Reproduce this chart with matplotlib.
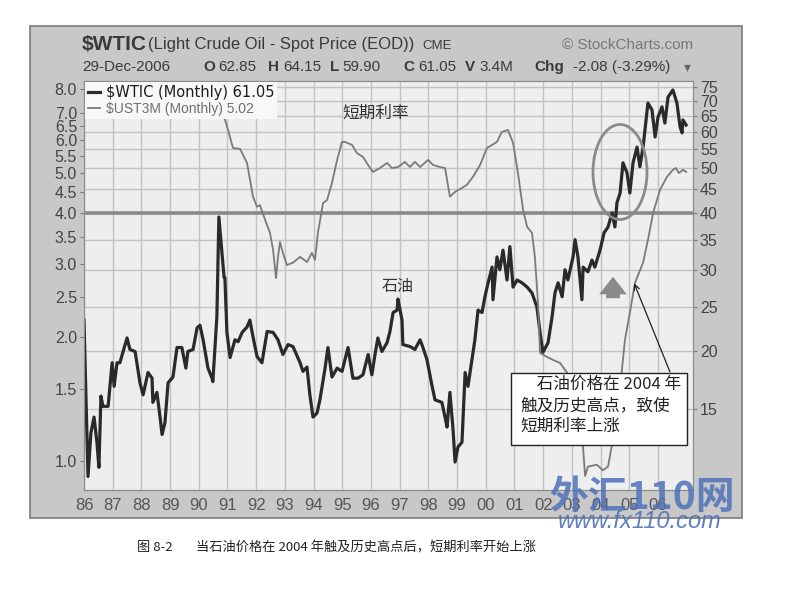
import matplotlib
matplotlib.use('Agg')
import matplotlib.pyplot as plt
from matplotlib.patches import Rectangle, Ellipse

plt.rcParams['font.family'] = ['Liberation Sans', 'Noto Sans CJK SC', 'DejaVu Sans']
CJK = ['Noto Sans CJK SC', 'DejaVu Sans']

# 原油月度收盘价 (右轴, 美元)
oil_years = [1986.00, 1986.14, 1986.24, 1986.35, 1986.45, 1986.52, 1986.59, 1986.66, 1986.84, 1986.98,
             1987.05, 1987.15, 1987.25, 1987.50, 1987.60, 1987.78, 1987.95, 1988.06, 1988.23, 1988.37,
             1988.40, 1988.54, 1988.65, 1988.72, 1988.82, 1988.93, 1989.10, 1989.24, 1989.41, 1989.55,
             1989.62, 1989.80, 1989.94, 1990.04, 1990.15, 1990.32, 1990.46, 1990.49, 1990.63, 1990.70,
             1990.88, 1990.91, 1990.98, 1991.09, 1991.26, 1991.37, 1991.51, 1991.68, 1991.78, 1991.89,
             1992.03, 1992.20, 1992.38, 1992.59, 1992.76, 1992.93, 1993.11, 1993.28, 1993.53, 1993.63,
             1993.77, 1993.87, 1993.98, 1994.12, 1994.22, 1994.40, 1994.50, 1994.64, 1994.82, 1994.99,
             1995.20, 1995.37, 1995.55, 1995.72, 1995.90, 1996.03, 1996.14, 1996.24, 1996.38, 1996.56,
             1996.66, 1996.77, 1996.91, 1996.94, 1997.08, 1997.11, 1997.36, 1997.53, 1997.71, 1997.81,
             1997.95, 1998.13, 1998.23, 1998.47, 1998.58, 1998.65, 1998.75, 1998.86, 1998.93, 1999.03,
             1999.17, 1999.21, 1999.28, 1999.38, 1999.52, 1999.62, 1999.73, 1999.87, 1999.97, 2000.08,
             2000.22, 2000.25, 2000.39, 2000.49, 2000.60, 2000.74, 2000.84, 2000.95, 2001.09, 2001.26,
             2001.44, 2001.61, 2001.78, 2001.89, 2001.99, 2002.17, 2002.31, 2002.41, 2002.52, 2002.66,
             2002.76, 2002.86, 2003.04, 2003.11, 2003.21, 2003.35, 2003.39, 2003.56, 2003.70, 2003.80,
             2003.98, 2004.12, 2004.26, 2004.40, 2004.50, 2004.57, 2004.68, 2004.78, 2004.92, 2005.02,
             2005.13, 2005.27, 2005.37, 2005.48, 2005.65, 2005.79, 2005.90, 2006.00, 2006.14, 2006.24,
             2006.35, 2006.52, 2006.66, 2006.77, 2006.84, 2006.87, 2006.98]
oil_price = [23.4, 10.7, 13.3, 14.4, 12.7, 11.2, 16.0, 15.2, 15.2, 18.9,
             16.8, 18.9, 18.9, 21.4, 20.2, 20.0, 17.1, 16.1, 18.0, 17.5,
             15.5, 16.3, 14.4, 13.2, 14.0, 17.1, 17.6, 20.4, 20.4, 18.4,
             20.0, 20.2, 22.5, 22.8, 21.2, 18.4, 17.5, 17.2, 23.8, 39.2,
             29.0, 28.9, 22.0, 19.4, 21.2, 21.0, 22.0, 22.6, 23.4, 21.5,
             19.5, 18.9, 22.1, 22.0, 21.2, 19.7, 20.7, 20.5, 18.9, 18.1,
             18.5, 16.1, 14.4, 14.7, 15.7, 18.4, 20.4, 17.6, 18.4, 18.1,
             20.4, 17.5, 17.5, 17.8, 19.7, 17.8, 19.7, 21.4, 20.0, 20.9,
             22.1, 24.3, 24.6, 26.0, 23.4, 20.7, 20.5, 20.2, 21.2, 20.4,
             19.2, 16.8, 15.7, 15.5, 14.4, 13.7, 16.3, 13.5, 11.5, 12.4,
             12.7, 14.4, 18.0, 16.8, 19.2, 21.2, 24.6, 24.3, 26.3, 28.2,
             30.5, 25.9, 32.1, 30.1, 33.2, 28.6, 33.8, 27.6, 28.6, 28.2,
             27.6, 26.8, 25.0, 22.0, 19.9, 20.9, 23.8, 26.8, 28.2, 26.3,
             30.1, 28.6, 32.1, 35.0, 32.1, 25.9, 30.5, 29.8, 31.6, 30.5,
             33.2, 36.2, 37.3, 40.0, 37.3, 42.1, 44.2, 51.4, 48.9, 44.2,
             51.4, 55.6, 50.4, 55.6, 69.3, 67.0, 58.5, 64.6, 68.0, 62.7,
             71.4, 74.0, 69.3, 61.5, 59.7, 63.7, 62.1]

# 3个月国债收益率 (左轴, %)
rate_years = [1990.70, 1990.84, 1991.02, 1991.19, 1991.44, 1991.68, 1991.89, 1992.03, 1992.13, 1992.31,
              1992.48, 1992.59, 1992.69, 1992.76, 1992.83, 1992.93, 1993.07, 1993.28, 1993.53, 1993.77,
              1993.94, 1994.05, 1994.15, 1994.33, 1994.47, 1994.64, 1994.82, 1994.99, 1995.09, 1995.34,
              1995.51, 1995.72, 1995.97, 1996.07, 1996.31, 1996.56, 1996.73, 1996.94, 1997.18, 1997.36,
              1997.53, 1997.71, 1997.99, 1998.16, 1998.40, 1998.58, 1998.75, 1998.93, 1999.17, 1999.34,
              1999.55, 1999.80, 2000.04, 2000.22, 2000.39, 2000.56, 2000.77, 2000.95, 2001.12, 2001.30,
              2001.44, 2001.61, 2001.71, 2001.82, 2001.89, 2002.13, 2002.34, 2002.59, 2002.83, 2003.04,
              2003.28, 2003.39, 2003.46, 2003.56, 2003.87, 2004.08, 2004.26, 2004.43, 2004.68, 2004.85,
              2005.02, 2005.20, 2005.48, 2005.65, 2005.83, 2006.07, 2006.31, 2006.52, 2006.62, 2006.73,
              2006.87, 2006.98]
rate_values = [7.7, 6.99, 6.36, 5.75, 5.72, 5.29, 4.38, 4.14, 4.18, 3.85,
               3.58, 3.25, 2.78, 3.13, 3.40, 3.20, 2.99, 3.03, 3.13, 3.04,
               3.20, 3.08, 3.58, 4.23, 4.30, 4.73, 5.38, 5.95, 5.95, 5.85,
               5.59, 5.47, 5.14, 5.03, 5.14, 5.29, 5.14, 5.17, 5.32, 5.17,
               5.32, 5.17, 5.38, 5.23, 5.17, 5.14, 4.38, 4.50, 4.60, 4.68,
               4.89, 5.23, 5.75, 5.85, 5.95, 6.29, 6.36, 5.92, 5.00, 4.07,
               3.70, 3.58, 3.13, 2.42, 1.83, 1.79, 1.76, 1.73, 1.64, 1.51,
               1.35, 1.08, 0.92, 0.97, 0.98, 0.95, 0.97, 1.13, 1.51, 1.97,
               2.29, 2.71, 3.03, 3.44, 4.00, 4.55, 4.89, 5.09, 5.14, 5.00,
               5.09, 5.03]

year_ticks = list(range(1986, 2007))
year_labels = [str(y)[2:] for y in year_ticks]
rate_ticks = [1.0, 1.5, 2.0, 2.5, 3.0, 3.5, 4.0, 4.5, 5.0, 5.5, 6.0, 6.5, 7.0, 8.0]
oil_ticks = [15, 20, 25, 30, 35, 40, 45, 50, 55, 60, 65, 70, 75]

W, H = 791, 592


def px(x, y):
    return x / W, 1 - y / H


fig = plt.figure(figsize=(W / 100, H / 100), dpi=100)
fig.patch.set_facecolor('white')
# 灰色外框
fig.patches.append(Rectangle(px(30, 518), 712 / W, 492 / H, transform=fig.transFigure,
                             fc='#c8c8c8', ec='#7c7c7c', lw=1.2, zorder=-5))

ax = fig.add_axes([84 / W, 1 - 490 / H, 609 / W, 409 / H])
ax.set_facecolor('#eeeeee')
ax.set_yscale('log')
ax.set_xlim(1986.0, 2007.22)
ax.set_ylim(10.0, 77.4)
ax.plot(oil_years, oil_price, color='#2a2a2a', lw=2.3, zorder=3, label='$WTIC (Monthly) 61.05')
ax.axhline(40, color='#8a8a8a', lw=2.6, zorder=2)

ax2 = ax.twinx()
ax2.set_yscale('log')
ax2.set_ylim(0.851, 8.36)
ax2.plot(rate_years, rate_values, color='#7a7a7a', lw=1.3, zorder=3, label='$UST3M (Monthly) 5.02')

# 刻度: 油价在右, 利率在左
ax.set_xticks(year_ticks, year_labels)
ax.set_yticks(oil_ticks, [str(t) for t in oil_ticks])
ax.yaxis.set_minor_locator(plt.NullLocator())
ax.yaxis.tick_right()
ax.yaxis.set_label_position('right')
ax.grid(True, color='#c2c2c2', lw=1.0)
ax.set_axisbelow(True)
ax.tick_params(axis='x', length=0, pad=6, labelsize=12, labelcolor='#555555')
ax.tick_params(axis='y', length=3, pad=2, labelsize=11.5, labelcolor='#444444', color='#777777')

ax2.set_yticks(rate_ticks, ['%.1f' % t for t in rate_ticks])
ax2.yaxis.set_minor_locator(plt.NullLocator())
ax2.yaxis.tick_left()
ax2.yaxis.set_label_position('left')
ax2.tick_params(axis='y', length=3, pad=2, labelsize=11.5, labelcolor='#444444', color='#777777')
for a in (ax, ax2):
    for s in a.spines.values():
        s.set_color('#8c8c8c')

# 图例
h1, l1 = ax.get_legend_handles_labels()
h2, l2 = ax2.get_legend_handles_labels()
leg = ax2.legend(h1 + h2, l1 + l2, loc='upper left', bbox_to_anchor=(0.0, 1.0), borderaxespad=0.1,
                 handlelength=0.8, handletextpad=0.4, labelspacing=0.1, borderpad=0.2,
                 frameon=True, fancybox=False, framealpha=1.0, edgecolor='none', facecolor='#f8f8f8',
                 prop={'family': 'DejaVu Sans', 'size': 10.5})
leg.set_zorder(10)
leg.get_texts()[0].set_color('#1c1c1c')
leg.get_texts()[1].set_color('#707070')
leg.get_texts()[1].set_fontfamily('Liberation Sans')
leg.get_texts()[1].set_fontsize(10)

# 标注
ax2.text((376 - 84) / 609, (490 - 113) / 409, '短期利率', transform=ax2.transAxes,
         ha='center', va='center', fontsize=12, family=CJK, color='#333333')
ax2.text((398 - 84) / 609, (490 - 286) / 409, '石油', transform=ax2.transAxes,
         ha='center', va='center', fontsize=11.5, family=CJK, color='#333333')

ax2.add_patch(Ellipse(((620 - 84) / 609, (490 - 172) / 409), 54 / 609, 95 / 409,
                      transform=ax2.transAxes, fill=False, ec='#8a8a8a', lw=2.0, zorder=6))

ax2.annotate('', xy=((613 - 84) / 609, (490 - 274) / 409), xytext=((613 - 84) / 609, (490 - 301) / 409),
             xycoords='axes fraction', textcoords='axes fraction',
             arrowprops=dict(arrowstyle='simple,head_length=0.7,head_width=1.1,tail_width=0.55',
                             mutation_scale=18, fc='#8a8a8a', ec='none'), zorder=6)

ax2.add_patch(Rectangle(((511 - 84) / 609, (490 - 445) / 409), 176 / 609, 72 / 409,
                        transform=ax2.transAxes, fc='white', ec='#222222', lw=1.0, zorder=8))
ax2.text((520 - 84) / 609, (490 - 376) / 409, '\u3000石油价格在 2004 年\n触及历史高点，致使\n短期利率上涨',
         transform=ax2.transAxes, ha='left', va='top', fontsize=12, family=CJK,
         linespacing=1.3, color='#222222', zorder=9)
ax2.annotate('', xy=(2005.17, 2.7), xytext=((670 - 84) / 609, (490 - 372) / 409),
             xycoords='data', textcoords='axes fraction',
             arrowprops=dict(arrowstyle='->', color='#222222', lw=0.9, shrinkA=0, shrinkB=0), zorder=9)

# 顶部标题
fig.text(*px(82, 44), '$WTIC', fontsize=15, weight='bold', color='#3a3a3a', va='center')
fig.text(*px(148, 45), '(Light Crude Oil - Spot Price (EOD))', fontsize=12, color='#3a3a3a', va='center')
fig.text(*px(422, 46), 'CME', fontsize=9.5, color='#3a3a3a', va='center')
fig.text(*px(693, 45), '© StockCharts.com', fontsize=11, color='#777777', va='center', ha='right')

info = [(82, '29-Dec-2006', 'normal'), (203, 'O', 'bold'), (218, '62.85', 'normal'),
        (268, 'H', 'bold'), (283, '64.15', 'normal'), (330, 'L', 'bold'), (342, '59.90', 'normal'),
        (403, 'C', 'bold'), (418, '61.05', 'normal'), (465, 'V', 'bold'), (479, '3.4M', 'normal'),
        (534, 'Chg', 'bold'), (573, '-2.08 (-3.29%)', 'normal')]
for x, s, w in info:
    fig.text(*px(x, 67), s, fontsize=11, weight=w, color='#3a3a3a', va='center')
fig.text(*px(684, 67), '▾', fontsize=10, color='#666666', va='center', family='DejaVu Sans')

# 水印
fig.text(*px(642, 497), '外汇110网', fontsize=28, weight='bold', color='#4f72b8', alpha=0.85,
         ha='center', va='center', family=CJK)
fig.text(*px(640, 522), 'www.fx110.com', fontsize=17, color='#4f72b8', alpha=0.9,
         ha='center', va='center', style='italic')

# 图题
fig.text(*px(137, 548), '图 8-2', fontsize=9.5, family=CJK, color='#222222', va='center')
fig.text(*px(196, 548), '当石油价格在 2004 年触及历史高点后，短期利率开始上涨', fontsize=9.5,
         family=CJK, color='#222222', va='center')

fig.savefig('out.png', dpi=100)
